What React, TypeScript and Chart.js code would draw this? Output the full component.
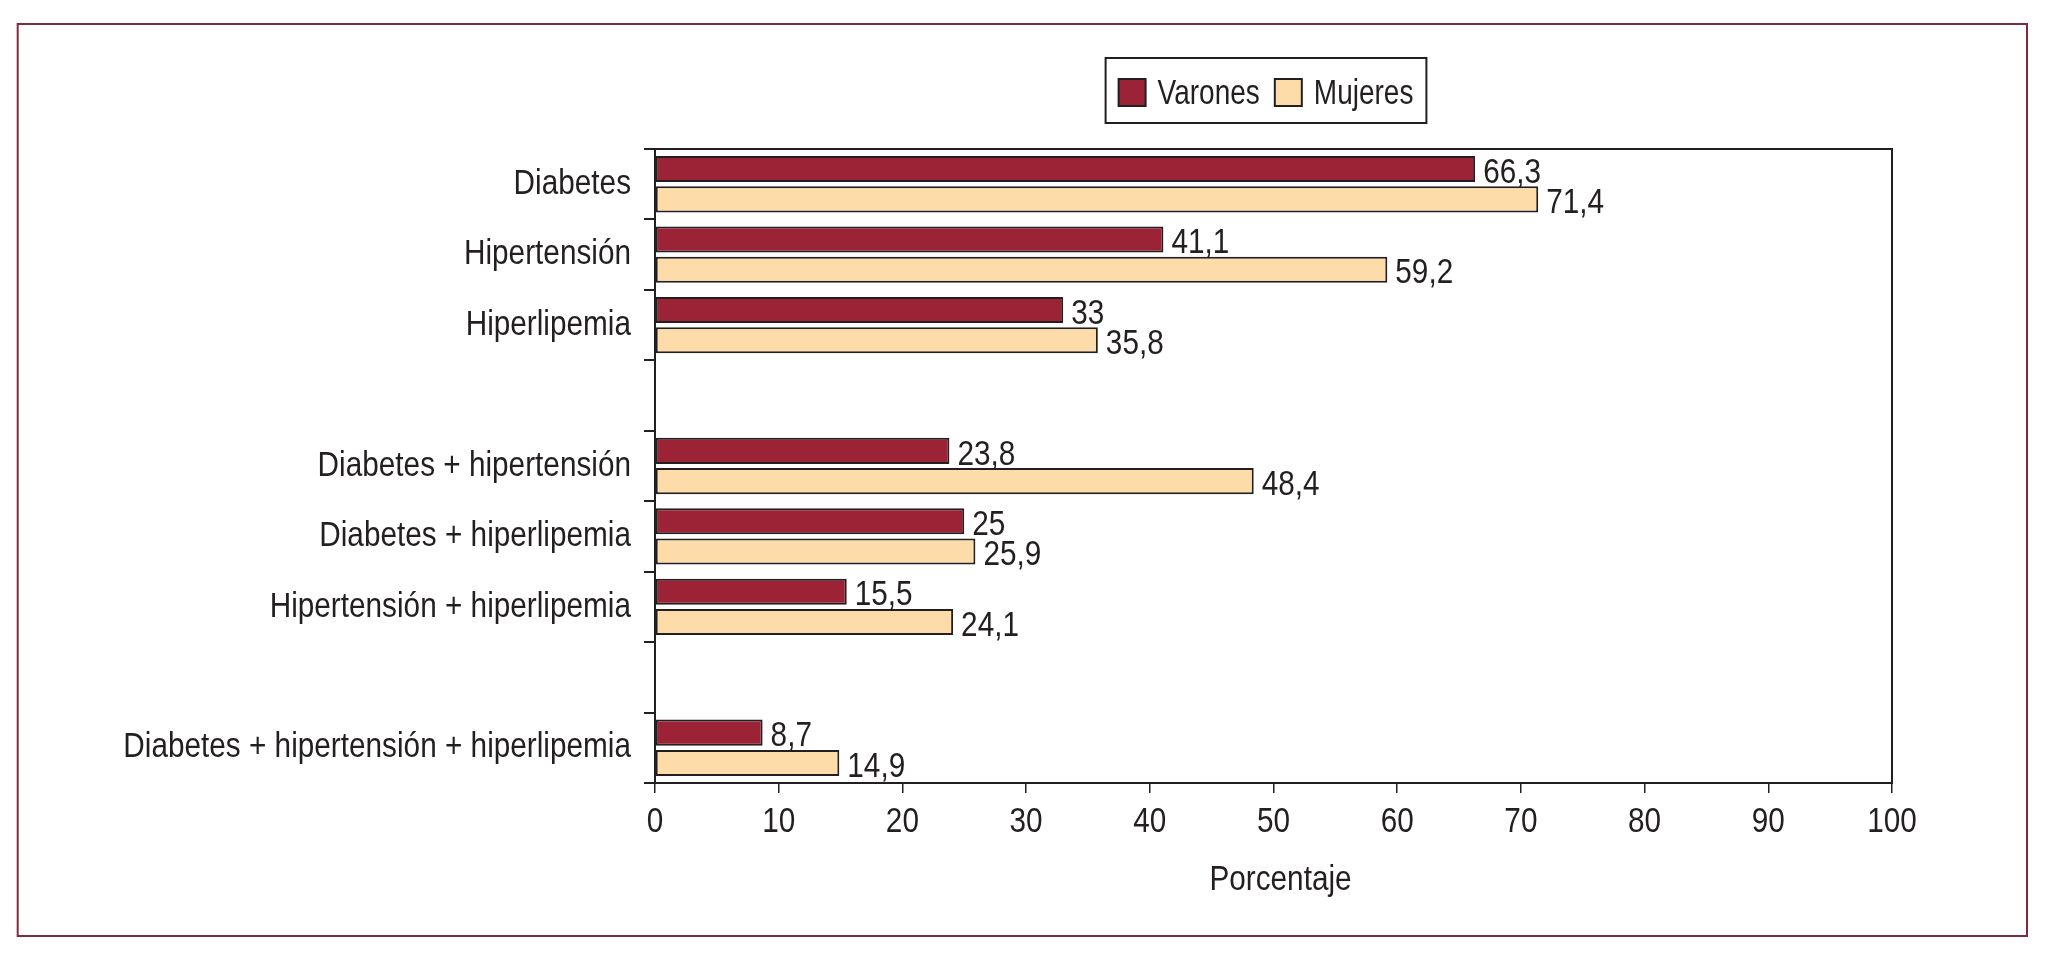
import React, { useEffect, useRef } from 'react';
import { Chart, registerables } from 'chart.js';

Chart.register(...registerables);

// ---- data ----
const categories = [
  'Diabetes',
  'Hipertensión',
  'Hiperlipemia',
  '',
  'Diabetes + hipertensión',
  'Diabetes + hiperlipemia',
  'Hipertensión + hiperlipemia',
  '',
  'Diabetes + hipertensión + hiperlipemia',
];
const varones = [66.3, 41.1, 33, null, 23.8, 25, 15.5, null, 8.7];
const mujeres = [71.4, 59.2, 35.8, null, 48.4, 25.9, 24.1, null, 14.9];
const seriesNames = ['Varones', 'Mujeres'];
const xMin = 0;
const xMax = 100;
const xStep = 10;
const xTitle = 'Porcentaje';

// ---- style ----
const FONT = '"Liberation Sans", Arial, sans-serif';
const FS = 35;
const SX = 0.85; // horizontal condensation of text (condensed typeface look)
const INK = '#231f20';
const MAROON = '#9b2335';
const PEACH = '#fddcaa';
const FRAME = '#7b2d3f';
const W = 2042;
const H = 938;

const fmt = (v: number) => String(v).replace('.', ',');

function drawText(ctx: CanvasRenderingContext2D, text: string, x: number, y: number, align: CanvasTextAlign, sx = SX) {
  ctx.save();
  ctx.translate(x, y);
  ctx.scale(sx, 1);
  ctx.textAlign = align;
  ctx.textBaseline = 'middle';
  ctx.fillText(text, 0, 0);
  ctx.restore();
}

export default function App() {
  const ref = useRef<HTMLCanvasElement>(null);

  useEffect(() => {
    const canvas = ref.current;
    if (!canvas) return;

    const decor = {
      id: 'decor',
      beforeDraw(chart: any) {
        const ctx = chart.ctx;
        ctx.save();
        ctx.fillStyle = '#ffffff';
        ctx.fillRect(0, 0, chart.width, chart.height);
        ctx.strokeStyle = FRAME;
        ctx.lineWidth = 2;
        ctx.strokeRect(9.7, 16, 2009.3, 912);
        ctx.restore();
      },
      afterDatasetsDraw(chart: any) {
        const ctx: CanvasRenderingContext2D = chart.ctx;
        const a = chart.chartArea;
        const xs = chart.scales.x;
        const ys = chart.scales.y;
        ctx.save();
        // plot frame
        ctx.strokeStyle = INK;
        ctx.lineWidth = 2;
        ctx.strokeRect(a.left, a.top, a.right - a.left, a.bottom - a.top);

        ctx.fillStyle = INK;
        ctx.font = `${FS}px ${FONT}`;

        // category labels
        categories.forEach((c, i) => {
          if (!c) return;
          drawText(ctx, c, a.left - 11 - 13, ys.getPixelForValue(i), 'right');
        });
        // x tick labels
        for (let v = xMin; v <= xMax; v += xStep) {
          drawText(ctx, String(v), xs.getPixelForValue(v), a.bottom + 39.5, 'center');
        }
        // axis title
        drawText(ctx, xTitle, (a.left + a.right) / 2 + 7, a.bottom + 97, 'center');

        // value labels
        chart.data.datasets.forEach((ds: any, di: number) => {
          const meta = chart.getDatasetMeta(di);
          meta.data.forEach((el: any, i: number) => {
            const v = ds.data[i];
            if (v === null || v === undefined) return;
            drawText(ctx, fmt(v), el.x + 8, el.y + 4, 'left');
          });
        });

        // legend
        const LSX = 0.8;
        const sw = 27, pad = 13, gapT = 12, gapItem = 15;
        const widths = chart.data.datasets.map((d: any) => ctx.measureText(d.label).width * LSX);
        const total = pad * 2 + widths.reduce((s: number, w: number) => s + w, 0) + (sw + gapT) * widths.length + gapItem * (widths.length - 1);
        const cx = (a.left + a.right) / 2 - 7.5;
        const bx = cx - total / 2;
        const by = 50, bh = 65;
        ctx.lineWidth = 2;
        ctx.strokeStyle = INK;
        ctx.strokeRect(bx, by, total, bh);
        let x = bx + pad;
        chart.data.datasets.forEach((d: any, i: number) => {
          ctx.fillStyle = d.backgroundColor;
          ctx.fillRect(x, by + 21, sw, sw);
          ctx.lineWidth = 2;
          ctx.strokeStyle = INK;
          ctx.strokeRect(x, by + 21, sw, sw);
          x += sw + gapT;
          ctx.fillStyle = INK;
          drawText(ctx, d.label, x, by + 21 + sw / 2 + 2, 'left', LSX);
          x += widths[i] + gapItem;
        });
        ctx.restore();
      },
    };

    const chart = new Chart(canvas, {
      type: 'bar',
      data: {
        labels: categories,
        datasets: [
          {
            label: seriesNames[0],
            data: varones,
            backgroundColor: MAROON,
            borderColor: INK,
            borderWidth: 2,
            borderSkipped: false,
            categoryPercentage: 0.86,
            barPercentage: 0.86,
          },
          {
            label: seriesNames[1],
            data: mujeres,
            backgroundColor: PEACH,
            borderColor: INK,
            borderWidth: 2,
            borderSkipped: false,
            categoryPercentage: 0.86,
            barPercentage: 0.86,
          },
        ],
      },
      options: {
        indexAxis: 'y',
        responsive: false,
        animation: false,
        devicePixelRatio: 1,
        layout: { padding: { top: 141, right: 158, left: 0, bottom: 0 } },
        plugins: { legend: { display: false }, title: { display: false }, tooltip: { enabled: false } },
        scales: {
          x: {
            type: 'linear',
            min: xMin,
            max: xMax,
            ticks: { stepSize: xStep, display: false },
            grid: { drawOnChartArea: false, drawTicks: true, tickLength: 10, color: INK, lineWidth: 1.5 },
            border: { display: true, color: INK, width: 2 },
            title: { display: false },
            afterFit: (s: any) => { s.height = 163; },
          },
          y: {
            type: 'category',
            ticks: { display: false, autoSkip: false },
            grid: { offset: true, drawOnChartArea: false, drawTicks: true, tickLength: 11, color: INK, lineWidth: 2 },
            border: { display: true, color: INK, width: 2 },
            afterFit: (s: any) => { s.width = 647; },
          },
        },
      },
      plugins: [decor],
    } as any);

    return () => chart.destroy();
  }, []);

  return (
    <div style={{ width: W, height: H }}>
      <canvas ref={ref} width={W} height={H} style={{ display: 'block', width: W, height: H }} />
    </div>
  );
}
